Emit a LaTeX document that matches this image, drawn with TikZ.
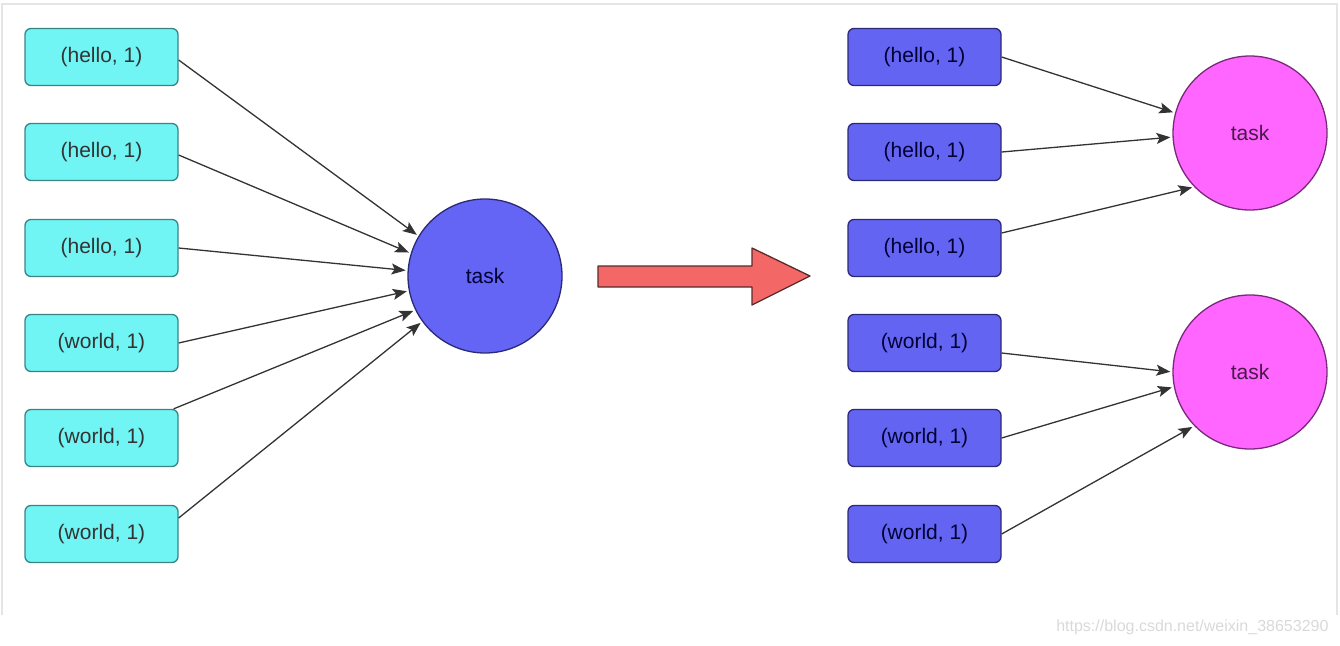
\documentclass[tikz,border=0pt]{standalone}
\usepackage{fontspec}
\setmainfont{Liberation Sans}
\usetikzlibrary{arrows.meta,positioning}
\definecolor{pairaqua}{HTML}{70F4F4}
\definecolor{pairaquaedge}{HTML}{3A8484}
\definecolor{pairblue}{HTML}{6464F2}
\definecolor{pairblueedge}{HTML}{2A2A78}
\definecolor{taskblue}{HTML}{6464F5}
\definecolor{taskpink}{HTML}{FF66FF}
\definecolor{taskpinkedge}{HTML}{7A2A7A}
\definecolor{shiftred}{HTML}{F36767}
\definecolor{shiftedge}{HTML}{5A2A2A}

\begin{document}
\begin{tikzpicture}
[x=1pt,y=-1pt,
 pair/.style={draw,rounded corners=6pt,minimum width=153pt,minimum height=57pt,
   line width=1.3pt,inner sep=0pt,font=\fontsize{21}{24}\selectfont},
 leftpair/.style={pair,fill=pairaqua,draw=pairaquaedge,text=black!80},
 rightpair/.style={pair,fill=pairblue,draw=pairblueedge,text=blue!20!black},
 task/.style={circle,minimum size=154pt,inner sep=0pt,line width=1.3pt,
   font=\fontsize{21}{24}\selectfont},
 link/.style={-{Stealth[length=14pt,width=11pt,inset=3pt]},line width=1.3pt,
   black!80,shorten >=2pt}]
\useasboundingbox (0,0) rectangle (1340,645);
\draw[gray!20,line width=1.5pt] (2,615) -- (2,4) -- (1337,4) -- (1337,615);

% before
\node[leftpair] (l1) at (101.5,57) {(hello, 1)};
\node[leftpair] (l2) at (101.5,152) {(hello, 1)};
\node[leftpair] (l3) at (101.5,248) {(hello, 1)};
\node[leftpair] (l4) at (101.5,343) {(world, 1)};
\node[leftpair] (l5) at (101.5,438) {(world, 1)};
\node[leftpair] (l6) at (101.5,534) {(world, 1)};
\node[task,fill=taskblue,draw=pairblueedge,text=blue!20!black] (t0) at (485,276) {task};
\draw[link] ([yshift=-3pt]l1.east) -- (t0.149);
\draw[link] ([yshift=-3pt]l2.east) -- (t0.163);
\draw[link] (l3.east) -- (t0.176);
\draw[link] (l4.east) -- (t0.191);
\draw[link] ([xshift=-5pt]l5.north east) -- (t0.206);
\draw[link] ([yshift=16pt]l6.east) -- (t0.216);

% shift
\draw[fill=shiftred,draw=shiftedge,line width=1.3pt,line join=round]
  (598,266) -- (752,266) -- (752,248) -- (810,276) -- (752,305) -- (752,287) -- (598,287) -- cycle;

% after
\node[rightpair] (r1) at (924.5,57) {(hello, 1)};
\node[rightpair] (r2) at (924.5,152) {(hello, 1)};
\node[rightpair] (r3) at (924.5,248) {(hello, 1)};
\node[rightpair] (r4) at (924.5,343) {(world, 1)};
\node[rightpair] (r5) at (924.5,438) {(world, 1)};
\node[rightpair] (r6) at (924.5,534) {(world, 1)};
\node[task,fill=taskpink,draw=taskpinkedge,text=taskpinkedge!60!black] (t1) at (1250,133) {task};
\node[task,fill=taskpink,draw=taskpinkedge,text=taskpinkedge!60!black] (t2) at (1250,372) {task};
\draw[link] (r1.east) -- (t1.165);
\draw[link] (r2.east) -- (t1.183);
\draw[link] ([yshift=15pt]r3.east) -- (t1.224);
\draw[link] ([yshift=-10pt]r4.east) -- (t2.180);
\draw[link] (r5.east) -- (t2.191);
\draw[link] (r6.east) -- (t2.224);

\node[anchor=east,text=gray!30,font=\fontsize{16}{18}\selectfont] (mark) at (1332,627)
  {https://blog.csdn.net/weixin\_38653290};
\end{tikzpicture}
\end{document}
